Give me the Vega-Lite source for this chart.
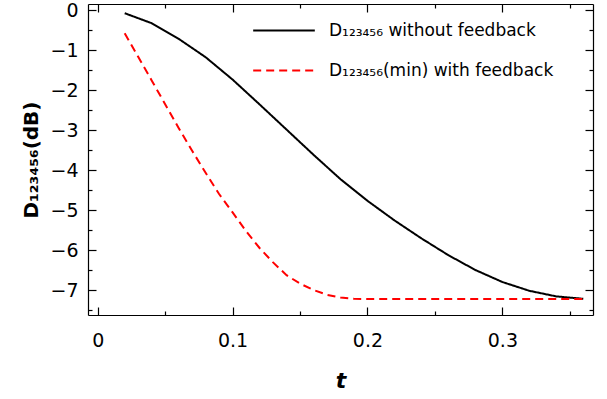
{
  "$schema": "https://vega.github.io/schema/vega-lite/v6.json",
  "width": 505,
  "height": 311,
  "autosize": "none",
  "padding": {"left": 88, "top": 4, "right": 14, "bottom": 84},
  "config": {"view": {"stroke": null}, "font": "DejaVu Sans"},
  "data": {"values": [
    {"t": 0.02, "D": -0.08, "s": "D₁₂₃₄₅₆ without feedback"},
    {"t": 0.04, "D": -0.33, "s": "D₁₂₃₄₅₆ without feedback"},
    {"t": 0.06, "D": -0.72, "s": "D₁₂₃₄₅₆ without feedback"},
    {"t": 0.08, "D": -1.18, "s": "D₁₂₃₄₅₆ without feedback"},
    {"t": 0.10, "D": -1.74, "s": "D₁₂₃₄₅₆ without feedback"},
    {"t": 0.12, "D": -2.36, "s": "D₁₂₃₄₅₆ without feedback"},
    {"t": 0.14, "D": -2.99, "s": "D₁₂₃₄₅₆ without feedback"},
    {"t": 0.16, "D": -3.62, "s": "D₁₂₃₄₅₆ without feedback"},
    {"t": 0.18, "D": -4.23, "s": "D₁₂₃₄₅₆ without feedback"},
    {"t": 0.20, "D": -4.77, "s": "D₁₂₃₄₅₆ without feedback"},
    {"t": 0.22, "D": -5.26, "s": "D₁₂₃₄₅₆ without feedback"},
    {"t": 0.24, "D": -5.71, "s": "D₁₂₃₄₅₆ without feedback"},
    {"t": 0.26, "D": -6.13, "s": "D₁₂₃₄₅₆ without feedback"},
    {"t": 0.28, "D": -6.50, "s": "D₁₂₃₄₅₆ without feedback"},
    {"t": 0.30, "D": -6.80, "s": "D₁₂₃₄₅₆ without feedback"},
    {"t": 0.32, "D": -7.02, "s": "D₁₂₃₄₅₆ without feedback"},
    {"t": 0.34, "D": -7.16, "s": "D₁₂₃₄₅₆ without feedback"},
    {"t": 0.36, "D": -7.22, "s": "D₁₂₃₄₅₆ without feedback"},
    {"t": 0.02, "D": -0.58, "s": "D₁₂₃₄₅₆(min) with feedback"},
    {"t": 0.04, "D": -1.76, "s": "D₁₂₃₄₅₆(min) with feedback"},
    {"t": 0.06, "D": -2.95, "s": "D₁₂₃₄₅₆(min) with feedback"},
    {"t": 0.07, "D": -3.52, "s": "D₁₂₃₄₅₆(min) with feedback"},
    {"t": 0.08, "D": -4.07, "s": "D₁₂₃₄₅₆(min) with feedback"},
    {"t": 0.09, "D": -4.60, "s": "D₁₂₃₄₅₆(min) with feedback"},
    {"t": 0.10, "D": -5.06, "s": "D₁₂₃₄₅₆(min) with feedback"},
    {"t": 0.11, "D": -5.53, "s": "D₁₂₃₄₅₆(min) with feedback"},
    {"t": 0.12, "D": -5.95, "s": "D₁₂₃₄₅₆(min) with feedback"},
    {"t": 0.13, "D": -6.31, "s": "D₁₂₃₄₅₆(min) with feedback"},
    {"t": 0.14, "D": -6.63, "s": "D₁₂₃₄₅₆(min) with feedback"},
    {"t": 0.15, "D": -6.84, "s": "D₁₂₃₄₅₆(min) with feedback"},
    {"t": 0.16, "D": -7.00, "s": "D₁₂₃₄₅₆(min) with feedback"},
    {"t": 0.17, "D": -7.12, "s": "D₁₂₃₄₅₆(min) with feedback"},
    {"t": 0.18, "D": -7.19, "s": "D₁₂₃₄₅₆(min) with feedback"},
    {"t": 0.19, "D": -7.22, "s": "D₁₂₃₄₅₆(min) with feedback"},
    {"t": 0.20, "D": -7.225, "s": "D₁₂₃₄₅₆(min) with feedback"},
    {"t": 0.24, "D": -7.225, "s": "D₁₂₃₄₅₆(min) with feedback"},
    {"t": 0.28, "D": -7.225, "s": "D₁₂₃₄₅₆(min) with feedback"},
    {"t": 0.32, "D": -7.225, "s": "D₁₂₃₄₅₆(min) with feedback"},
    {"t": 0.36, "D": -7.225, "s": "D₁₂₃₄₅₆(min) with feedback"}
  ]},
  "resolve": {"axis": {"x": "independent", "y": "independent"}},
  "layer": [
    {
      "mark": {"type": "line", "strokeWidth": 2},
      "encoding": {
        "x": {"field": "t", "type": "quantitative",
              "scale": {"domain": [-0.0072, 0.3672], "nice": false, "zero": false},
              "axis": {"orient": "bottom", "values": [0, 0.1, 0.2, 0.3], "format": "~g", "grid": false,
                       "tickSize": -8, "tickColor": "black", "tickWidth": 1.2, "domainColor": "black", "domainWidth": 1.2,
                       "labelPadding": 24, "labelFontSize": 19, "labelColor": "black", "labelFont": "DejaVu Sans",
                       "title": "t", "titleFontSize": 22, "titleFontStyle": "italic", "titleFontWeight": "bold",
                       "titleColor": "black", "titlePadding": 20}},
        "y": {"field": "D", "type": "quantitative",
              "scale": {"domain": [-7.625, 0.15], "nice": false, "zero": false},
              "axis": {"orient": "left", "values": [0, -1, -2, -3, -4, -5, -6, -7], "format": "~g", "grid": false,
                       "tickSize": -8, "tickColor": "black", "tickWidth": 1.2, "domainColor": "black", "domainWidth": 1.2,
                       "labelPadding": 18, "labelFontSize": 19, "labelColor": "black", "labelFont": "DejaVu Sans",
                       "title": "D₁₂₃₄₅₆(dB)", "titleFontSize": 20, "titleFontWeight": "bold",
                       "titleColor": "black", "titlePadding": 8}},
        "color": {"field": "s", "type": "nominal",
                  "scale": {"domain": ["D₁₂₃₄₅₆ without feedback", "D₁₂₃₄₅₆(min) with feedback"], "range": ["#000000", "#ff0000"]},
                  "legend": {"title": null, "orient": "none", "legendX": 164, "legendY": -5.5, "padding": 0,
                             "symbolType": "stroke", "symbolSize": 3800,
                             "symbolStrokeWidth": 2, "labelFontSize": 17, "labelColor": "black", "labelOffset": 13,
                             "labelLimit": 0, "rowPadding": 0, "labelFont": "DejaVu Sans"}},
        "strokeDash": {"field": "s", "type": "nominal",
                  "scale": {"domain": ["D₁₂₃₄₅₆ without feedback", "D₁₂₃₄₅₆(min) with feedback"], "range": [[1, 0], [8, 5]]},
                  "legend": {"title": null, "orient": "none", "legendX": 164, "legendY": -5.5, "padding": 0,
                             "symbolType": "stroke", "symbolSize": 3800,
                             "symbolStrokeWidth": 2, "labelFontSize": 17, "labelColor": "black", "labelOffset": 13,
                             "labelLimit": 0, "rowPadding": 0, "labelFont": "DejaVu Sans"}}
      }
    },
    {
      "mark": {"type": "point", "opacity": 0},
      "encoding": {
        "x": {"field": "t", "type": "quantitative",
              "scale": {"domain": [-0.0072, 0.3672], "nice": false, "zero": false},
              "axis": {"orient": "bottom", "values": [0.05, 0.15, 0.25, 0.35], "labels": false, "domain": false, "grid": false,
                       "tickSize": -4, "tickColor": "black", "tickWidth": 1.2, "title": null}},
        "y": {"field": "D", "type": "quantitative",
              "scale": {"domain": [-7.625, 0.15], "nice": false, "zero": false},
              "axis": {"orient": "left", "values": [-0.5, -1.5, -2.5, -3.5, -4.5, -5.5, -6.5, -7.5], "labels": false, "domain": false, "grid": false,
                       "tickSize": -4, "tickColor": "black", "tickWidth": 1.2, "title": null}}
      }
    },
    {
      "mark": {"type": "point", "opacity": 0},
      "encoding": {
        "x": {"field": "t", "type": "quantitative",
              "scale": {"domain": [-0.0072, 0.3672], "nice": false, "zero": false},
              "axis": {"orient": "top", "values": [0, 0.1, 0.2, 0.3], "labels": false, "grid": false,
                       "tickSize": -8, "tickColor": "black", "tickWidth": 1.2, "domainColor": "black", "domainWidth": 1.2, "title": null}},
        "y": {"field": "D", "type": "quantitative",
              "scale": {"domain": [-7.625, 0.15], "nice": false, "zero": false},
              "axis": {"orient": "right", "values": [0, -1, -2, -3, -4, -5, -6, -7], "labels": false, "grid": false,
                       "tickSize": -8, "tickColor": "black", "tickWidth": 1.2, "domainColor": "black", "domainWidth": 1.2, "title": null}}
      }
    },
    {
      "mark": {"type": "point", "opacity": 0},
      "encoding": {
        "x": {"field": "t", "type": "quantitative",
              "scale": {"domain": [-0.0072, 0.3672], "nice": false, "zero": false},
              "axis": {"orient": "top", "values": [0.05, 0.15, 0.25, 0.35], "labels": false, "domain": false, "grid": false,
                       "tickSize": -4, "tickColor": "black", "tickWidth": 1.2, "title": null}},
        "y": {"field": "D", "type": "quantitative",
              "scale": {"domain": [-7.625, 0.15], "nice": false, "zero": false},
              "axis": {"orient": "right", "values": [-0.5, -1.5, -2.5, -3.5, -4.5, -5.5, -6.5, -7.5], "labels": false, "domain": false, "grid": false,
                       "tickSize": -4, "tickColor": "black", "tickWidth": 1.2, "title": null}}
      }
    }
  ]
}
